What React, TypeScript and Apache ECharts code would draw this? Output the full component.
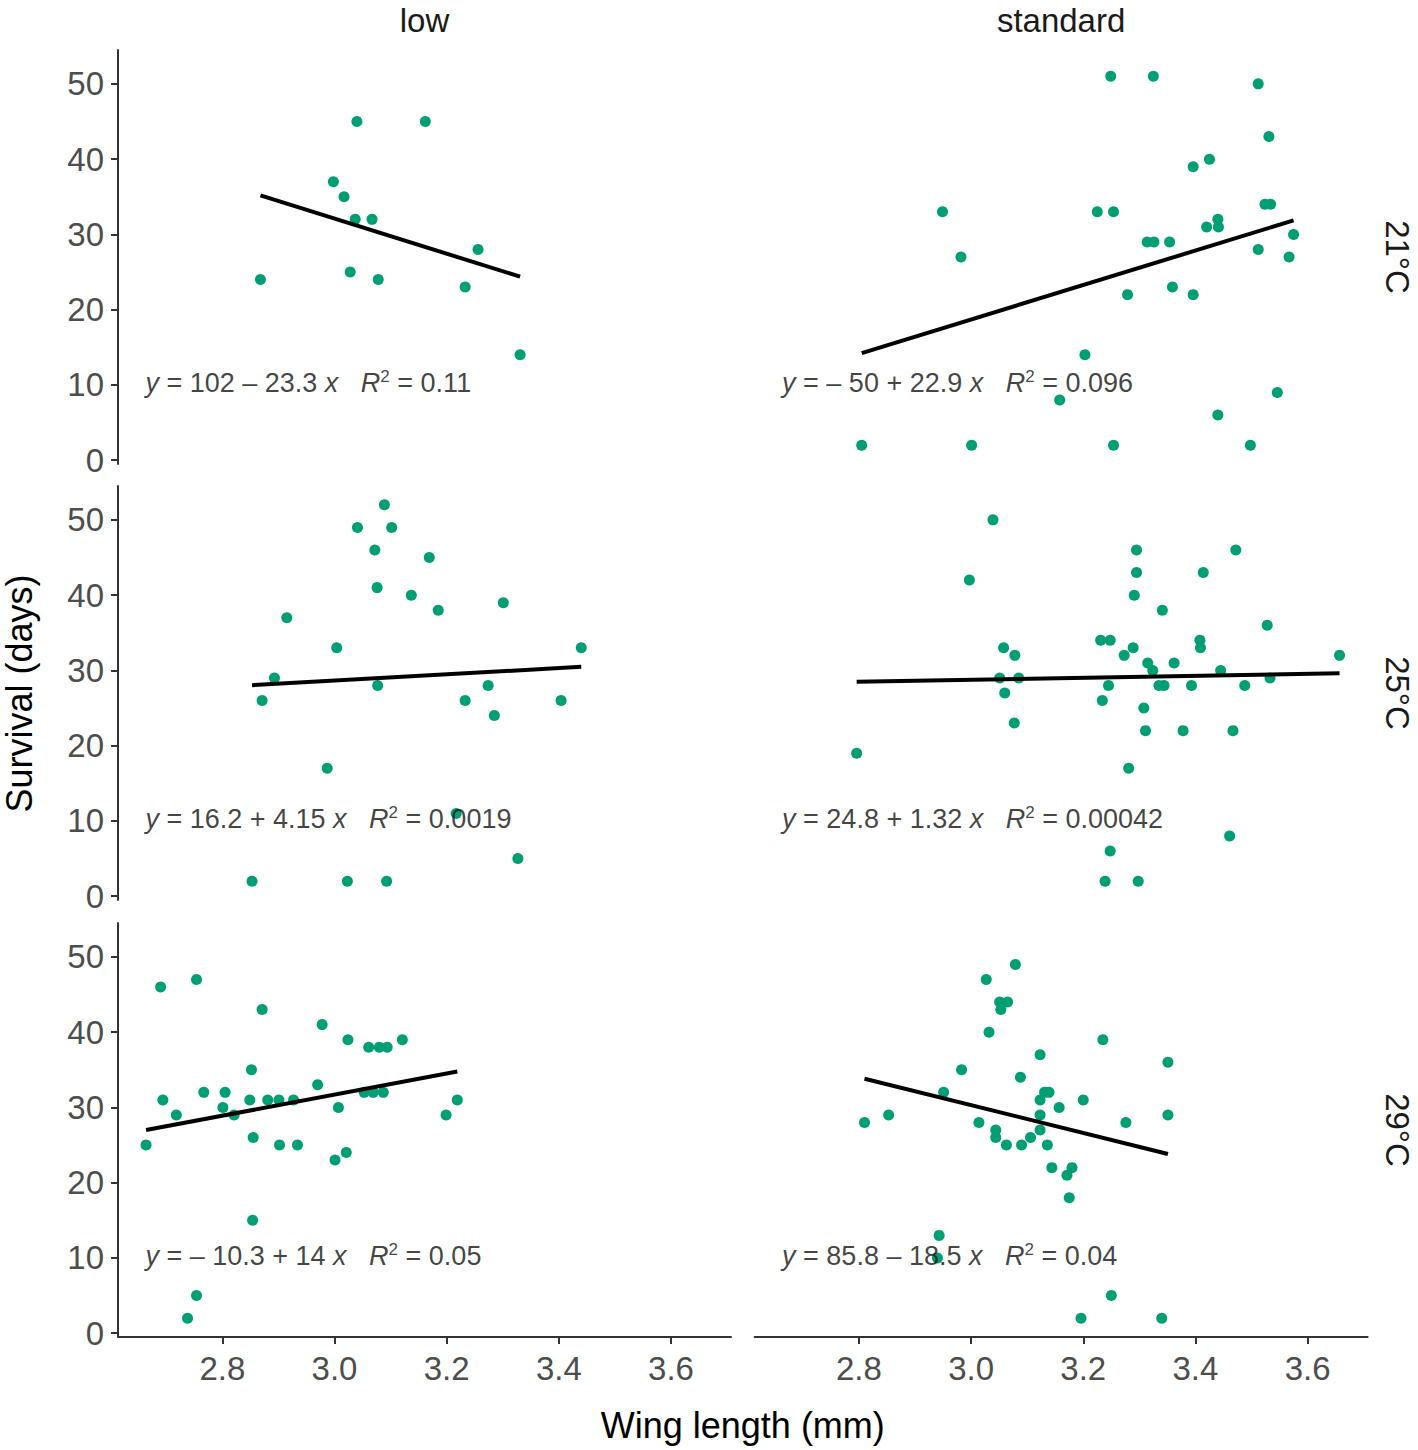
import React, { useEffect, useRef } from 'react';
import * as echarts from 'echarts';

const FONT = '"Liberation Sans", Arial, Helvetica, sans-serif';

const columnLabels = ['low', 'standard'];
const rowLabels = ['21°C', '25°C', '29°C'];
const xTicks = [2.8, 3.0, 3.2, 3.4, 3.6];
const yTicks = [0, 10, 20, 30, 40, 50];

// panel data: [wing length (mm), survival (days)]
const low21 = [[2.868,24],[2.998,37],[3.017,35],[3.040,45],[3.037,32],[3.067,32],[3.028,25],[3.078,24],[3.162,45],[3.233,23],[3.256,28],[3.331,14]];
const std21 = [[2.949,33],[2.982,27],[3.158,8],[2.805,2],[3.001,2],[3.249,51],[3.325,51],[3.512,50],[3.531,43],[3.396,39],[3.425,40],[3.225,33],[3.254,33],[3.524,34],[3.534,34],[3.440,32],[3.420,31],[3.441,31],[3.314,29],[3.326,29],[3.354,29],[3.575,30],[3.512,28],[3.567,27],[3.279,22],[3.359,23],[3.396,22],[3.203,14],[3.546,9],[3.440,6],[3.254,2],[3.498,2]];
const low25 = [[3.089,52],[3.041,49],[3.102,49],[3.072,46],[3.169,45],[3.076,41],[3.137,40],[3.185,38],[3.301,39],[2.915,37],[3.004,33],[3.440,33],[2.893,29],[3.077,28],[3.274,28],[2.871,26],[3.233,26],[3.404,26],[3.285,24],[2.987,17],[3.217,11],[3.327,5],[2.853,2],[3.023,2],[3.093,2]];
const std25 = [[3.039,50],[2.997,42],[3.058,33],[3.078,32],[3.051,29],[3.085,29],[3.060,27],[3.077,23],[2.796,19],[3.295,46],[3.472,46],[3.295,43],[3.414,43],[3.291,40],[3.341,38],[3.528,36],[3.231,34],[3.248,34],[3.408,34],[3.289,33],[3.409,33],[3.273,32],[3.657,32],[3.315,31],[3.362,31],[3.324,30],[3.445,30],[3.245,28],[3.335,28],[3.344,28],[3.393,28],[3.488,28],[3.533,29],[3.234,26],[3.308,25],[3.311,22],[3.378,22],[3.467,22],[3.281,17],[3.461,8],[3.248,6],[3.239,2],[3.298,2]];
const low29 = [[2.690,46],[2.754,47],[2.871,43],[2.978,41],[3.024,39],[3.121,39],[3.061,38],[3.080,38],[3.094,38],[2.852,35],[2.970,33],[2.767,32],[2.805,32],[3.053,32],[3.069,32],[3.087,32],[2.694,31],[2.849,31],[2.881,31],[2.901,31],[2.927,31],[3.219,31],[2.801,30],[3.007,30],[2.718,29],[2.821,29],[3.199,29],[2.855,26],[2.664,25],[2.902,25],[2.934,25],[3.001,23],[3.021,24],[2.854,15],[2.754,5],[2.738,2]];
const std29 = [[3.079,49],[3.027,47],[3.051,44],[3.065,44],[3.053,43],[3.032,40],[3.235,39],[3.123,37],[3.351,36],[2.983,35],[3.088,34],[2.951,32],[3.131,32],[3.139,32],[3.123,31],[3.200,31],[3.157,30],[2.853,29],[3.123,29],[3.351,29],[2.810,28],[3.014,28],[3.276,28],[3.044,27],[3.123,27],[3.044,26],[3.106,26],[3.063,25],[3.090,25],[3.136,25],[3.144,22],[3.180,22],[3.171,21],[3.175,18],[2.943,13],[2.940,10],[3.250,5],[3.196,2],[3.340,2]];

const panels = [low21, std21, low25, std25, low29, std29];

// fitted lines y = a + b x
const intercepts = [102, -50, 16.2, 24.8, -10.3, 85.8];
const slopes = [-23.3, 22.9, 4.15, 1.32, 14, -18.5];
const eqTexts = ['102 – 23.3', '– 50 + 22.9', '16.2 + 4.15', '24.8 + 1.32', '– 10.3 + 14', '85.8 – 18.5'];
const r2Texts = ['0.11', '0.096', '0.0019', '0.00042', '0.05', '0.04'];

const X_MIN = 2.614;
const X_MAX = 3.707;
const Y_MIN = -0.5;
const Y_MAX = 54.5;
const EQ_X = 2.663;
const EQ_Y = 10.2;

const GRID_LEFTS = [118, 754.6];
const GRID_WIDTH = 613;
const GRID_TOPS = [50, 486, 923];
const GRID_HEIGHT = 414;

const AXIS_COLOR = '#333333';
const TICK_TEXT = '#4D4D4D';
const POINT_COLOR = '#009E73';

export default function App() {
  const ref = useRef<HTMLDivElement>(null);

  useEffect(() => {
    if (!ref.current) return;
    const chart = echarts.init(ref.current, undefined, { renderer: 'svg' });

    const grids: any[] = [];
    const xAxes: any[] = [];
    const yAxes: any[] = [];
    const series: any[] = [];

    panels.forEach((pts, i) => {
      const row = Math.floor(i / 2);
      const col = i % 2;
      grids.push({
        left: GRID_LEFTS[col],
        top: GRID_TOPS[row],
        width: GRID_WIDTH,
        height: GRID_HEIGHT,
        containLabel: false,
      });
      const bottom = row === 2;
      xAxes.push({
        type: 'value',
        gridIndex: i,
        min: X_MIN,
        max: X_MAX,
        position: 'bottom',
        axisLine: { show: bottom, onZero: false, lineStyle: { color: AXIS_COLOR, width: 2 } },
        axisTick: { show: bottom, length: 7, customValues: xTicks, lineStyle: { color: AXIS_COLOR, width: 2 } },
        axisLabel: {
          show: bottom,
          customValues: xTicks,
          formatter: (v: number) => v.toFixed(1),
          margin: 15,
          fontSize: 33,
          fontFamily: FONT,
          color: TICK_TEXT,
        },
        splitLine: { show: false },
      });
      const leftCol = col === 0;
      yAxes.push({
        type: 'value',
        gridIndex: i,
        min: Y_MIN,
        max: Y_MAX,
        axisLine: { show: leftCol, onZero: false, lineStyle: { color: AXIS_COLOR, width: 2 } },
        axisTick: { show: leftCol, length: 7, customValues: yTicks, lineStyle: { color: AXIS_COLOR, width: 2 } },
        axisLabel: {
          show: leftCol,
          customValues: yTicks,
          formatter: (v: number) => String(Math.round(v)),
          margin: 14,
          fontSize: 33,
          fontFamily: FONT,
          color: TICK_TEXT,
        },
        splitLine: { show: false },
      });

      series.push({
        type: 'scatter',
        xAxisIndex: i,
        yAxisIndex: i,
        data: pts,
        symbolSize: 11,
        itemStyle: { color: POINT_COLOR, opacity: 1 },
        z: 2,
      });

      const xs = pts.map((p) => p[0]);
      const x0 = Math.min(...xs);
      const x1 = Math.max(...xs);
      series.push({
        type: 'line',
        xAxisIndex: i,
        yAxisIndex: i,
        data: [
          [x0, intercepts[i] + slopes[i] * x0],
          [x1, intercepts[i] + slopes[i] * x1],
        ],
        symbol: 'none',
        lineStyle: { color: '#000000', width: 4 },
        z: 3,
        silent: true,
      });

      series.push({
        type: 'scatter',
        xAxisIndex: i,
        yAxisIndex: i,
        data: [[EQ_X, EQ_Y]],
        symbolSize: 0,
        silent: true,
        z: 4,
        label: {
          show: true,
          position: 'right',
          distance: 0,
          formatter:
            '{i|y}{n| = ' + eqTexts[i] + ' }{i|x}{n|   }{i|R}{s|2}{n| = ' + r2Texts[i] + '}',
          rich: {
            n: { fontSize: 27, fontFamily: FONT, color: '#111111', lineHeight: 30 },
            i: { fontSize: 27, fontFamily: FONT, color: '#111111', fontStyle: 'italic', lineHeight: 30 },
            s: { fontSize: 17, fontFamily: FONT, color: '#111111', lineHeight: 14, verticalAlign: 'top' },
          },
        },
      });
    });

    const textStyle = (text: string, size: number, color: string) => ({
      text,
      fontSize: size,
      fontFamily: FONT,
      fill: color,
      align: 'center',
      verticalAlign: 'middle',
    });

    const graphics: any[] = [];
    columnLabels.forEach((lab, c) => {
      graphics.push({
        type: 'text',
        x: GRID_LEFTS[c] + GRID_WIDTH / 2,
        y: 20,
        style: textStyle(lab, 33, '#1A1A1A'),
      });
    });
    rowLabels.forEach((lab, r) => {
      graphics.push({
        type: 'text',
        x: 1397,
        y: GRID_TOPS[r] + GRID_HEIGHT / 2,
        rotation: -Math.PI / 2,
        style: textStyle(lab, 33, '#1A1A1A'),
      });
    });
    graphics.push({
      type: 'text',
      x: 19,
      y: (GRID_TOPS[0] + GRID_TOPS[2] + GRID_HEIGHT) / 2,
      rotation: Math.PI / 2,
      style: textStyle('Survival (days)', 36, '#000000'),
    });
    graphics.push({
      type: 'text',
      x: (GRID_LEFTS[0] + GRID_LEFTS[1] + GRID_WIDTH) / 2,
      y: 1425,
      style: textStyle('Wing length (mm)', 36, '#000000'),
    });

    chart.setOption({
      animation: false,
      backgroundColor: '#ffffff',
      grid: grids,
      xAxis: xAxes,
      yAxis: yAxes,
      series,
      graphic: graphics,
    });

    return () => chart.dispose();
  }, []);

  return (
    <div
      ref={ref}
      style={{ position: 'fixed', left: 0, top: 0, width: 1418, height: 1450, background: '#fff' }}
    />
  );
}
